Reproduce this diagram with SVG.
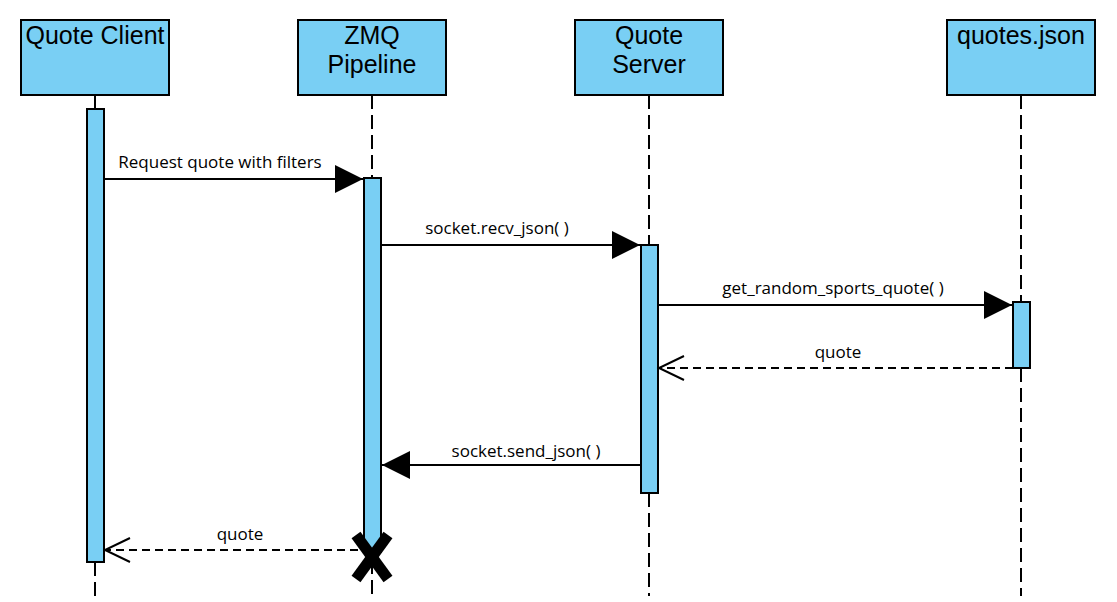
<svg xmlns="http://www.w3.org/2000/svg" width="1117" height="602" viewBox="0 0 1117 602">
<defs>
<style>
.box{fill:#79CFF4;stroke:#000;stroke-width:2}
.act{fill:#79CFF4;stroke:#000;stroke-width:2}
.life{stroke:#000;stroke-width:2;stroke-dasharray:14 6;fill:none}
.hdr{font-family:"Liberation Sans",Arial,sans-serif;font-size:25px;fill:#000;text-anchor:middle}
.lbl{font-family:"Open Sans","Noto Sans",sans-serif;font-size:17px;fill:#000;text-anchor:middle}
.msg{stroke:#000;stroke-width:2;fill:none}
.ret{stroke:#000;stroke-width:2;fill:none;stroke-dasharray:8 5}
</style>
<marker id="filled" markerUnits="userSpaceOnUse" markerWidth="30" markerHeight="30" viewBox="0 0 30 30" refX="28" refY="15" orient="auto">
<path d="M0,1 L28,15 L0,29 Z" fill="#000"/>
</marker>
<marker id="open" markerUnits="userSpaceOnUse" markerWidth="30" markerHeight="30" viewBox="0 0 30 30" refX="27" refY="15" orient="auto">
<path d="M2,3 L27,15 L2,27" fill="none" stroke="#000" stroke-width="2"/>
</marker>
</defs>
<rect width="1117" height="602" fill="#fff"/>

<g id="client">
<rect class="box" x="21" y="20" width="148" height="75"/>
<text class="hdr" x="95" y="44">Quote Client</text>
<line x1="95" y1="95" x2="95" y2="109" stroke="#000" stroke-width="2"/>
<line class="life" x1="95" y1="562" x2="95" y2="596"/>
<rect class="act" x="87" y="109" width="17" height="453"/>
</g>

<g id="pipeline">
<rect class="box" x="298" y="20" width="148" height="75"/>
<text class="hdr" x="372" y="44">ZMQ</text>
<text class="hdr" x="372" y="73">Pipeline</text>
<line class="life" x1="372" y1="95" x2="372" y2="178"/>
<line class="life" x1="372" y1="560" x2="372" y2="596"/>
<rect class="act" x="364" y="178" width="17" height="374"/>
<g stroke="#000" stroke-width="11">
<line x1="356" y1="535" x2="388" y2="579"/>
<line x1="388" y1="535" x2="356" y2="579"/>
</g>
</g>

<g id="server">
<rect class="box" x="575" y="20" width="148" height="75"/>
<text class="hdr" x="649" y="44">Quote</text>
<text class="hdr" x="649" y="73">Server</text>
<line class="life" x1="649" y1="95" x2="649" y2="245"/>
<line class="life" x1="649" y1="493" x2="649" y2="596"/>
<rect class="act" x="641" y="245" width="17" height="248"/>
</g>

<g id="quotesjson">
<rect class="box" x="947" y="20" width="148" height="75"/>
<text class="hdr" x="1021" y="44">quotes.json</text>
<line class="life" x1="1021" y1="95" x2="1021" y2="302"/>
<line class="life" x1="1021" y1="368" x2="1021" y2="596"/>
<rect class="act" x="1013" y="302" width="17" height="66"/>
</g>

<g id="connectors">
<line class="msg" x1="104" y1="179" x2="363" y2="179" marker-end="url(#filled)"/>
<text class="lbl" x="220" y="168">Request quote with filters</text>
<line class="msg" x1="381" y1="245" x2="640" y2="245" marker-end="url(#filled)"/>
<text class="lbl" x="497" y="234">socket.recv_json( )</text>
<line class="msg" x1="658" y1="305" x2="1012" y2="305" marker-end="url(#filled)"/>
<text class="lbl" x="833" y="294">get_random_sports_quote( )</text>
<line class="ret" x1="1013" y1="368" x2="659" y2="368" marker-end="url(#open)"/>
<text class="lbl" x="838" y="358">quote</text>
<line class="msg" x1="641" y1="465" x2="382" y2="465" marker-end="url(#filled)"/>
<text class="lbl" x="526" y="457">socket.send_json( )</text>
<line class="ret" x1="358" y1="550" x2="105" y2="550" marker-end="url(#open)"/>
<text class="lbl" x="240" y="540">quote</text>
</g>
</svg>
